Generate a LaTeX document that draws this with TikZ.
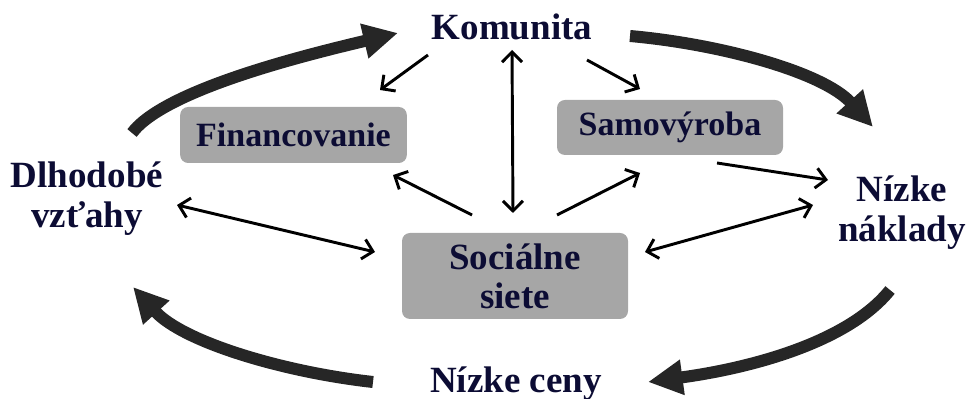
\documentclass[tikz,border=0pt]{standalone}
\usepackage{fontspec}
\setmainfont{Liberation Serif}
\usetikzlibrary{arrows.meta,calc}
\definecolor{textnavy}{RGB}{12,12,52}
\definecolor{boxgray}{RGB}{166,166,166}
\definecolor{cyclegray}{RGB}{38,38,38}
\tikzset{
  term/.style={font=\fontsize{27.75}{30}\selectfont\bfseries,text=textnavy,
               inner sep=0pt,align=center},
  factor/.style={fill=boxgray,rounded corners=6pt,inner sep=0pt,align=center,
                 font=\fontsize{25.5}{30}\selectfont\bfseries,text=textnavy},
  link/.style={-{Straight Barb[length=7.5pt,width=15pt]},line width=2.2pt,black},
  twoway/.style={link,{Straight Barb[length=7.5pt,width=15pt]}-{Straight Barb[length=7.5pt,width=15pt]}},
  cycle/.style={-{Triangle[length=26pt,width=25pt]},line width=9pt,draw=cyclegray},
}

\begin{document}
\begin{tikzpicture}[x=0.75pt,y=0.75pt]
  \path[use as bounding box] (0,0) rectangle (967,399);

  % outer cycle
  \node[term,anchor=base] (kom) at (512,359) {Komunita};
  \node[term] (dlh) at (87,200) {Dlhodobé\\vzťahy};
  \node[term] (nak) at (902,186) {Nízke\\náklady};
  \node[term,anchor=base] (cen) at (516,6) {Nízke ceny};

  % inner boxes
  \node[factor,minimum width=170pt,minimum height=42pt] (fin) at (293.5,264) {Financovanie};
  \node[factor,minimum width=169.5pt,minimum height=41.25pt] (sam) at (670,271.5) {Samovýroba};
  \node[factor,minimum width=169.5pt,minimum height=64.5pt,
        font=\fontsize{27.75}{29.5}\selectfont\bfseries] (soc) at (515,123) {Sociálne\\siete};

  \draw[cycle] ([shift={(45,66)}]dlh.center)
    .. controls +(33,44) and +(-88,-21) .. ([shift={(-114,7)}]kom.base);
  \draw[cycle] ([shift={(118,4)}]kom.base)
    .. controls +(90,-8) and +(-50,55) .. ([shift={(-29,86)}]nak.center);
  \draw[cycle] ([shift={(-12,-77)}]nak.center)
    .. controls +(-40,-50) and +(110,15) .. ([shift={(132,11)}]cen.base);
  \draw[cycle] ([shift={(-143,11)}]cen.base)
    .. controls +(-90,10) and +(50,-55) .. ([shift={(46,-88)}]dlh.center);

  \draw[link] ([shift={(-84,-15)}]kom.base) -- ([shift={(86.5,45)}]fin.center);
  \draw[link] ([shift={(75,-20)}]kom.base) -- ([shift={(-30,38.5)}]sam.center);
  \draw[twoway] ([shift={(0,-10)}]kom.base) -- ([shift={(-2,63)}]soc.center);
  \draw[link] ([shift={(-43,61)}]soc.center) -- ([shift={(99.5,-40)}]fin.center);
  \draw[link] ([shift={(42,61)}]soc.center) -- ([shift={(-30,-45.5)}]sam.center);
  \draw[link] ([shift={(47,-35.5)}]sam.center) -- ([shift={(-74,33)}]nak.center);
  \draw[twoway] ([shift={(90,-6)}]dlh.center) -- ([shift={(-140,24)}]soc.center);
  \draw[twoway] ([shift={(130,24)}]soc.center) -- ([shift={(-89,8)}]nak.center);
\end{tikzpicture}
\end{document}
